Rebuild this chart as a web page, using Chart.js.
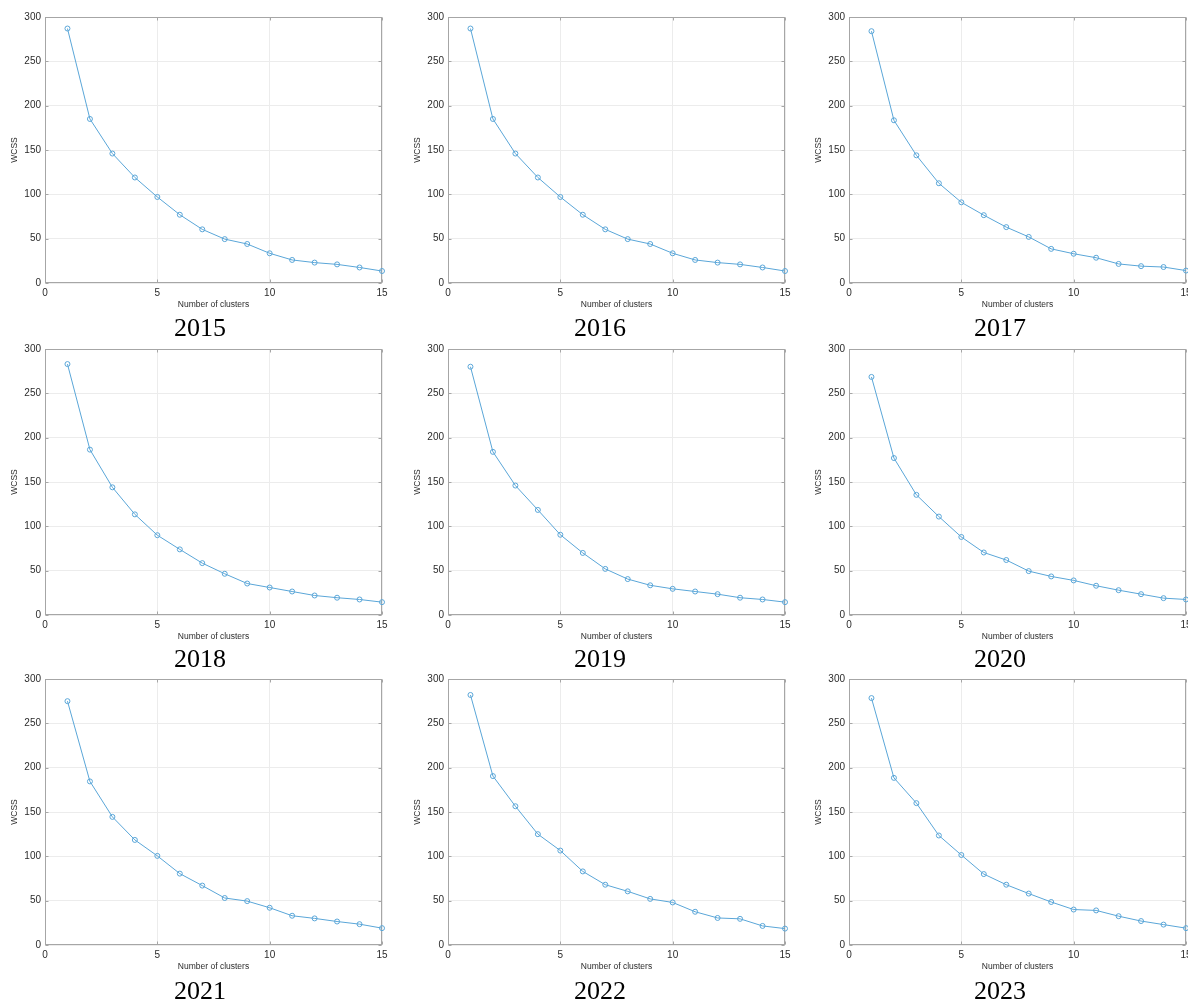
<!DOCTYPE html>
<html>
<head>
<meta charset="utf-8">
<script src="https://cdn.jsdelivr.net/npm/chart.js@4.4.1/dist/chart.umd.min.js"></script>
<style>
  html, body { margin: 0; padding: 0; background: #fff; overflow: hidden; }
  body { position: relative; width: 1188px; height: 999px; }
  canvas { position: absolute; }
  .year {
    position: absolute; width: 400px; text-align: center;
    font-family: "Liberation Serif", "DejaVu Serif", serif;
    font-size: 26px; line-height: 26px; color: #000;
  }
</style>
</head>
<body>
<script>
// data
const clusters = [1, 2, 3, 4, 5, 6, 7, 8, 9, 10, 11, 12, 13, 14, 15];
const wcss2015 = [287, 185, 146, 119, 97, 77, 60.5, 49.5, 44, 33.5, 26, 23, 21, 17.5, 13.5];
const wcss2016 = [287, 185, 146, 119, 97, 77, 60.5, 49.5, 44, 33.5, 26, 23, 21, 17.5, 13.5];
const wcss2017 = [284, 183.5, 144, 112.5, 91, 76.5, 63, 52, 38.5, 33, 28.5, 21.5, 19, 18, 14];
const wcss2018 = [283, 186.5, 144, 113.5, 90, 74, 58.5, 46.5, 35.5, 31, 26.5, 22, 19.5, 17.5, 14.5];
const wcss2019 = [280, 184, 146, 118.5, 90.5, 70, 52, 40.5, 33.5, 29.5, 26.5, 23.5, 19.5, 17.5, 14.5];
const wcss2020 = [268.5, 177, 135.5, 111, 88, 70.5, 62, 49.5, 43.5, 39, 33, 28, 23.5, 19, 17.5];
const wcss2021 = [275, 184.5, 144.5, 118.5, 100.5, 80.5, 67, 53, 49.5, 42, 33, 30, 26.5, 23.5, 19];
const wcss2022 = [282, 190.5, 156.5, 125, 106.5, 83, 68, 60.5, 52, 48, 37.5, 30.5, 29.5, 21.5, 18.5];
const wcss2023 = [278.5, 188.5, 160, 123.5, 101.5, 80, 68, 58, 48.5, 40, 39, 32.5, 27, 23, 19];

const years = ['2015', '2016', '2017', '2018', '2019', '2020', '2021', '2022', '2023'];
const series = [wcss2015, wcss2016, wcss2017, wcss2018, wcss2019, wcss2020, wcss2021, wcss2022, wcss2023];

const xTickValues = [0, 5, 10, 15];
const yTickValues = [0, 50, 100, 150, 200, 250, 300];

// panel layout (plot area corners)
const colLeft = [45, 448, 849];
const rowTop = [17, 349, 679];
const plotW = 337;
const plotH = 266;
const yAxisW = 45;
const xAxisH = 35;
const padTop = 8;
const padRight = 10;

const lineColor = '#5aa6d8';
const boxColor = '#a6a6a6';
const gridColor = '#ececec';
const textColor = '#2b2b2b';
const sansFont = '"Liberation Sans", Arial, sans-serif';

// box around the plot with short inward tick marks, matlab style
const framePlugin = {
  id: 'frame',
  beforeDatasetsDraw(chart) {
    const { ctx, chartArea: a, scales } = chart;
    ctx.save();
    ctx.strokeStyle = boxColor;
    ctx.lineWidth = 1;
    const l = Math.round(a.left) + 0.5, r = Math.round(a.right) - 0.5;
    const t = Math.round(a.top) + 0.5, b = Math.round(a.bottom) - 0.5;
    ctx.strokeRect(l, t, r - l, b - t);
    ctx.beginPath();
    scales.y.ticks.forEach((tk) => {
      const y = Math.round(scales.y.getPixelForValue(tk.value)) + 0.5;
      ctx.moveTo(l, y); ctx.lineTo(l + 3, y);
      ctx.moveTo(r, y); ctx.lineTo(r - 3, y);
    });
    scales.x.ticks.forEach((tk) => {
      const x = Math.round(scales.x.getPixelForValue(tk.value)) + 0.5;
      ctx.moveTo(x, b); ctx.lineTo(x, b - 3);
      ctx.moveTo(x, t); ctx.lineTo(x, t + 3);
    });
    ctx.stroke();
    ctx.restore();
  }
};

function makePanel(i) {
  const col = i % 3;
  const row = Math.floor(i / 3);
  const canvas = document.createElement('canvas');
  const w = yAxisW + plotW + padRight;
  const h = padTop + plotH + xAxisH;
  canvas.width = w;
  canvas.height = h;
  canvas.style.width = w + 'px';
  canvas.style.height = h + 'px';
  document.body.appendChild(canvas);

  const caption = document.createElement('div');
  caption.className = 'year';
  caption.textContent = years[i];
  caption.style.left = (col * 400) + 'px';
  caption.style.top = [315, 646, 978][row] + 'px';
  document.body.appendChild(caption);

  const chart = new Chart(canvas.getContext('2d'), {
    type: 'line',
    data: {
      datasets: [{
        data: clusters.map((c, k) => ({ x: c, y: series[i][k] })),
        borderColor: lineColor,
        borderWidth: 1,
        pointRadius: 2.5,
        pointBorderWidth: 1,
        pointBorderColor: lineColor,
        pointBackgroundColor: 'rgba(0,0,0,0)',
        tension: 0,
        clip: false
      }]
    },
    options: {
      responsive: false,
      maintainAspectRatio: false,
      animation: false,
      devicePixelRatio: 1,
      layout: { padding: { top: padTop, right: padRight, left: 0, bottom: 0 } },
      plugins: { legend: { display: false }, tooltip: { enabled: false } },
      scales: {
        x: {
          type: 'linear',
          min: xTickValues[0],
          max: xTickValues[xTickValues.length - 1],
          afterBuildTicks: (s) => { s.ticks = xTickValues.map((v) => ({ value: v })); },
          afterFit: (s) => { s.height = xAxisH; },
          grid: { color: gridColor, drawTicks: false },
          border: { display: false },
          ticks: { color: textColor, padding: 4, font: { family: sansFont, size: 10 }, maxRotation: 0 },
          title: {
            display: true, text: 'Number of clusters', color: textColor,
            font: { family: sansFont, size: 8.5 }, padding: { top: 0, bottom: 8 }
          }
        },
        y: {
          type: 'linear',
          min: yTickValues[0],
          max: yTickValues[yTickValues.length - 1],
          afterBuildTicks: (s) => { s.ticks = yTickValues.map((v) => ({ value: v })); },
          afterFit: (s) => { s.width = yAxisW; },
          grid: { color: gridColor, drawTicks: false },
          border: { display: false },
          ticks: { color: textColor, padding: 4, font: { family: sansFont, size: 10 } },
          title: {
            display: true, text: 'WCSS', color: textColor,
            font: { family: sansFont, size: 8.5 }, padding: { top: 10, bottom: 0 }
          }
        }
      }
    },
    plugins: [framePlugin]
  });

  // make the plot area exactly plotW x plotH, then place it on the page
  const a = chart.chartArea;
  const fixW = Math.round(w + (plotW - (a.right - a.left)));
  const fixH = Math.round(h + (plotH - (a.bottom - a.top)));
  if (fixW !== w || fixH !== h) {
    canvas.style.width = fixW + 'px';
    canvas.style.height = fixH + 'px';
    chart.resize(fixW, fixH);
  }
  const b = chart.chartArea;
  canvas.style.left = Math.round(colLeft[col] - b.left) + 'px';
  canvas.style.top = Math.round(rowTop[row] - b.top) + 'px';
}

for (let i = 0; i < 9; i++) {
  makePanel(i);
}
</script>
</body>
</html>
